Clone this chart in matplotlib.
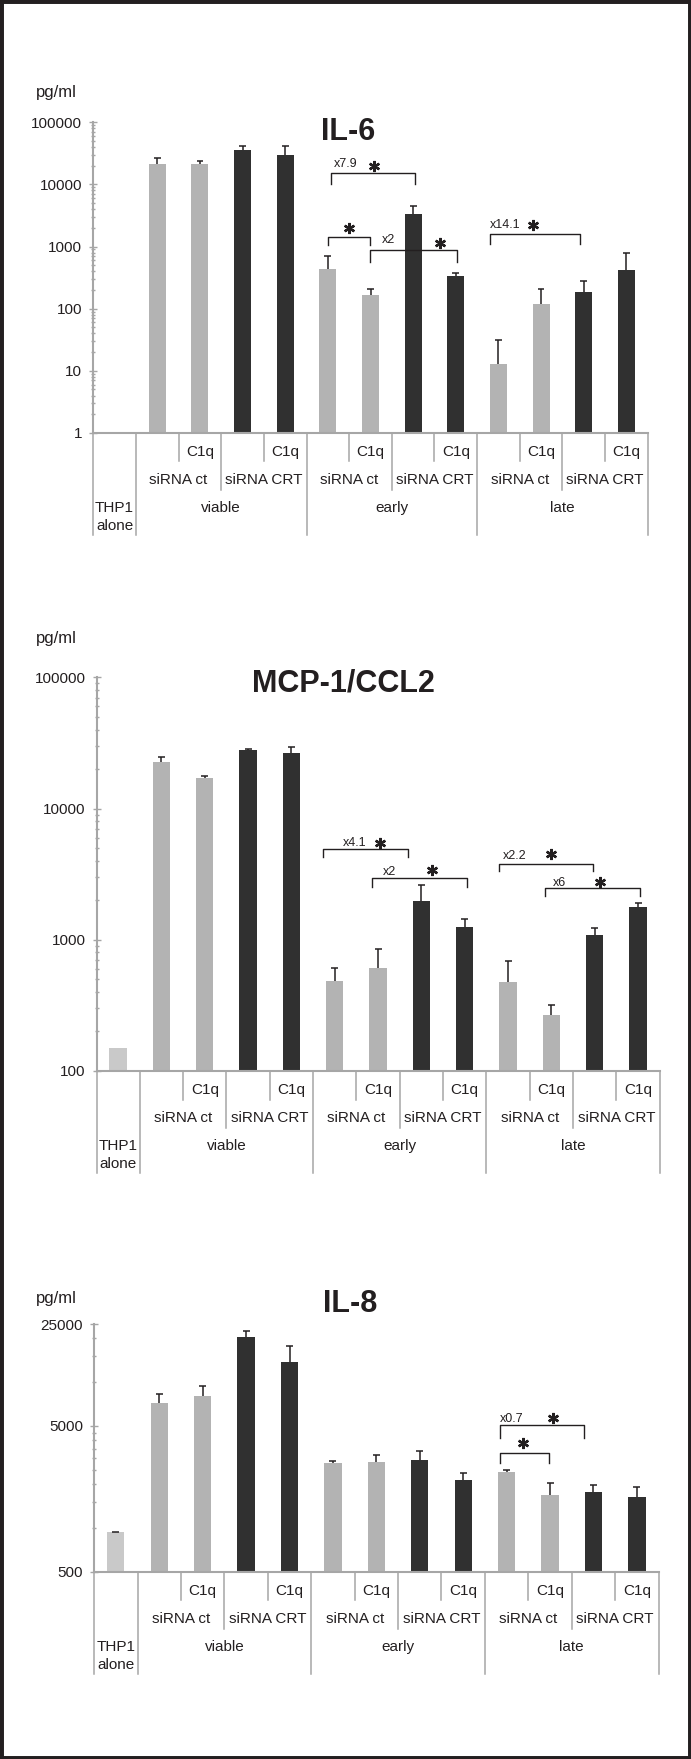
import numpy as np
import matplotlib
matplotlib.use('Agg')
import matplotlib.pyplot as plt
from matplotlib.transforms import blended_transform_factory
from matplotlib.ticker import FixedLocator, NullFormatter
from matplotlib.patches import Rectangle

plt.rcParams['font.family'] = ['Liberation Sans', 'DejaVu Sans']

# data (pg/ml), urutan: THP1, viable ct, viable ct C1q, viable CRT, viable CRT C1q, early ..., late ...
c1q_row = ['', '', 'C1q', '', 'C1q', '', 'C1q', '', 'C1q', '', 'C1q', '', 'C1q']
sirna_row = ['siRNA ct', 'siRNA CRT', 'siRNA ct', 'siRNA CRT', 'siRNA ct', 'siRNA CRT']
kondisi = ['viable', 'early', 'late']

il6 = [np.nan, 21000, 21000, 35600, 29600, 430, 165, 3360, 335, 12.8, 118, 184, 417]
il6_err = [np.nan, 5200, 3000, 6300, 12300, 280, 43, 1110, 43, 18, 86, 90, 375]

mcp1 = [151, 22750, 17200, 28000, 26400, 485, 607, 1977, 1259, 480, 266, 1082, 1770]
mcp1_err = [np.nan, 2150, 600, 600, 3200, 128, 240, 640, 190, 213, 52, 142, 127]

il8 = [934, 7150, 8065, 20270, 13790, 2776, 2820, 2923, 2122, 2408, 1674, 1773, 1622]
il8_err = [4, 1100, 1335, 2130, 3880, 102, 345, 463, 248, 98, 369, 199, 296]

# tanda signifikansi: (x kiri, x kanan, y atas, y bawah, label, x label, y label, x bintang, y bintang)
il6_sig = [(5.07, 7.04, 15070, 10150, 'x7.9', 5.41, 21300, 6.09, 19800),
           (5.01, 5.99, 1436, 1056, '', 0, 0, 5.50, 1983),
           (5.99, 8.04, 877, 568, 'x2', 6.43, 1271, 7.63, 1137),
           (8.80, 10.91, 1588, 1097, 'x14.1', 9.15, 2218, 9.81, 2218)]
mcp1_sig = [(4.73, 6.68, 4898, 4256, 'x4.1', 5.45, 5470, 6.04, 5470),
            (5.86, 8.06, 2944, 2541, 'x2', 6.27, 3305, 7.25, 3404),
            (8.79, 10.95, 3785, 3367, 'x2.2', 9.15, 4377, 9.98, 4483),
            (9.86, 12.04, 2472, 2158, 'x6', 10.19, 2722, 11.12, 2773)]
il8_sig = [(8.84, 10.78, 5055, 4116, 'x0.7', 9.12, 5556, 10.06, 5647),
           (8.84, 9.97, 3280, 2802, '', 0, 0, 9.37, 3805)]

W, H = 691, 1759
ink = '#231f20'
abu = '#a6a6a6'
warna = ['#c9c9c9'] + (['#b3b3b3'] * 2 + ['#303030'] * 2) * 3

fig = plt.figure(figsize=(W / 100, H / 100), dpi=100)
fig.add_artist(Rectangle((0, 0), 1, 1, transform=fig.transFigure, fill=False, lw=5, ec=ink))


def tabel(ax, h_px):
    tr = blended_transform_factory(ax.transData, ax.transAxes)
    fy = lambda off: -off / h_px
    for k in range(14):
        b = k - 0.5
        if k in (0, 1, 5, 9, 13):
            d = 102
        elif k in (3, 7, 11):
            d = 57
        else:
            d = 28.5
        ax.plot([b, b], [0, fy(d)], color=abu, lw=1.1, transform=tr, clip_on=False)
    for i, s in enumerate(c1q_row):
        if s:
            ax.text(i, fy(19), s, ha='center', va='center', fontsize=11, color=ink, transform=tr)
    for j, s in enumerate(sirna_row):
        ax.text(1.5 + 2 * j, fy(47.5), s, ha='center', va='center', fontsize=11, color=ink, transform=tr)
    for j, s in enumerate(kondisi):
        ax.text(2.5 + 4 * j, fy(75), s, ha='center', va='center', fontsize=11, color=ink, transform=tr)
    ax.text(0, fy(75), 'THP1', ha='center', va='center', fontsize=11, color=ink, transform=tr)
    ax.text(0, fy(93), 'alone', ha='center', va='center', fontsize=11, color=ink, transform=tr)


def panel(x0, x1, ytop, ybot, vals, errs, ylim, yticks, minor, judul, y_judul, x_judul, y_pg, sig):
    ax = fig.add_axes([x0 / W, 1 - ybot / H, (x1 - x0) / W, (ybot - ytop) / H])
    ax.set_yscale('log')
    x = np.arange(13)
    v = np.array(vals, dtype=float)
    e = np.array(errs, dtype=float)
    ok = ~np.isnan(v)
    ax.bar(x[ok], v[ok], width=0.4, color=[warna[i] for i in x[ok]], zorder=2)
    ok2 = ok & ~np.isnan(e)
    ax.vlines(x[ok2], v[ok2], v[ok2] + e[ok2], color=ink, lw=1.1, zorder=3)
    ax.hlines(v[ok2] + e[ok2], x[ok2] - 0.08, x[ok2] + 0.08, color=ink, lw=1.1, zorder=3)
    ax.set_xlim(-0.5, 12.5)
    ax.set_ylim(*ylim)
    ax.set_yticks(yticks)
    ax.set_yticklabels([str(t) for t in yticks], fontsize=11, color=ink)
    ax.yaxis.set_minor_locator(FixedLocator(minor))
    ax.yaxis.set_minor_formatter(NullFormatter())
    ax.tick_params(axis='y', which='major', direction='inout', length=6, width=1, color=abu, pad=5)
    ax.tick_params(axis='y', which='minor', direction='inout', length=3.5, width=1, color=abu)
    ax.set_xticks([])
    for s in ['top', 'right']:
        ax.spines[s].set_visible(False)
    for s in ['left', 'bottom']:
        ax.spines[s].set_color(abu)
        ax.spines[s].set_linewidth(1.5)
    for (a, b, yt, yb, lab, xl, yl, xs, ys) in sig:
        ax.plot([a, a, b, b], [yb, yt, yt, yb], color=ink, lw=1.0, zorder=4)
        if lab:
            ax.text(xl, yl, lab, ha='center', va='center', fontsize=9, color=ink)
        ax.plot([xs], [ys], marker=(6, 2, 0), ms=8, mew=1.7, color=ink, linestyle='none')
    tabel(ax, ybot - ytop)
    fig.text(x_judul / W, 1 - y_judul / H, judul, ha='center', va='center', fontsize=22,
             fontweight='bold', color=ink)
    fig.text(36 / W, 1 - y_pg / H, 'pg/ml', ha='left', va='center', fontsize=12, color=ink)
    return ax


def log_minor(lo, hi):
    m = []
    for d in range(lo, hi):
        m += [k * 10 ** d for k in range(2, 10)]
    return m


panel(93.3, 647.7, 122.3, 432.9, il6, il6_err, (1, 100000),
      [1, 10, 100, 1000, 10000, 100000], log_minor(0, 5), 'IL-6', 132, 348, 93, il6_sig)

panel(96.5, 659.7, 677.3, 1071, mcp1, mcp1_err, (100, 100000),
      [100, 1000, 10000, 100000], log_minor(2, 5), 'MCP-1/CCL2', 684, 343, 638, mcp1_sig)

il8_minor = [k * 500 for k in range(2, 10)] + [10000, 15000, 20000]
panel(94.1, 658.6, 1324, 1571.9, il8, il8_err, (500, 25000),
      [500, 5000, 25000], il8_minor, 'IL-8', 1304, 350, 1298, il8_sig)

fig.savefig('out.png', dpi=100)
